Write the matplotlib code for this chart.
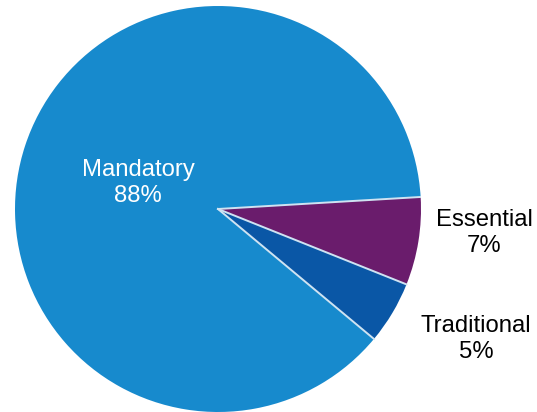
import numpy as np
import matplotlib.pyplot as plt

labels = ['Essential', 'Traditional', 'Mandatory']
shares = [7, 5, 88]
colors = ['#6a1c6c', '#0a57a6', '#178acd']

plt.rcParams['font.family'] = ['Liberation Sans', 'DejaVu Sans']

fig = plt.figure(figsize=(5.37, 4.12), dpi=100)
ax = fig.add_axes([15 / 537, 0, 406 / 537, 406 / 412])

start = 3.4
ax.pie(shares, colors=colors, startangle=start, counterclock=False, radius=1,
       wedgeprops=dict(linewidth=0))

# light separator lines between the wedges (no outline round the outside)
bounds = start - 360 * np.cumsum([0] + shares) / sum(shares)
for a in bounds[:-1]:
    t = np.deg2rad(a)
    ax.plot([0, np.cos(t)], [0, np.sin(t)], color='#cfe3f2', lw=1.4)

ax.set_xlim(-1, 1)
ax.set_ylim(-1, 1)
ax.axis('off')

# label positions in pixel space of the original picture
pos = {'Mandatory': (138, 183, 'white'),
       'Essential': (484, 233, 'black'),
       'Traditional': (476, 339, 'black')}
for lab, val in zip(labels, shares):
    px, py, c = pos[lab]
    fig.text(px / 537, 1 - py / 412, '{}\n{}%'.format(lab, val), color=c,
             fontsize=17.2, ha='center', va='center', linespacing=1.22)

plt.savefig('out.png', dpi=100)
